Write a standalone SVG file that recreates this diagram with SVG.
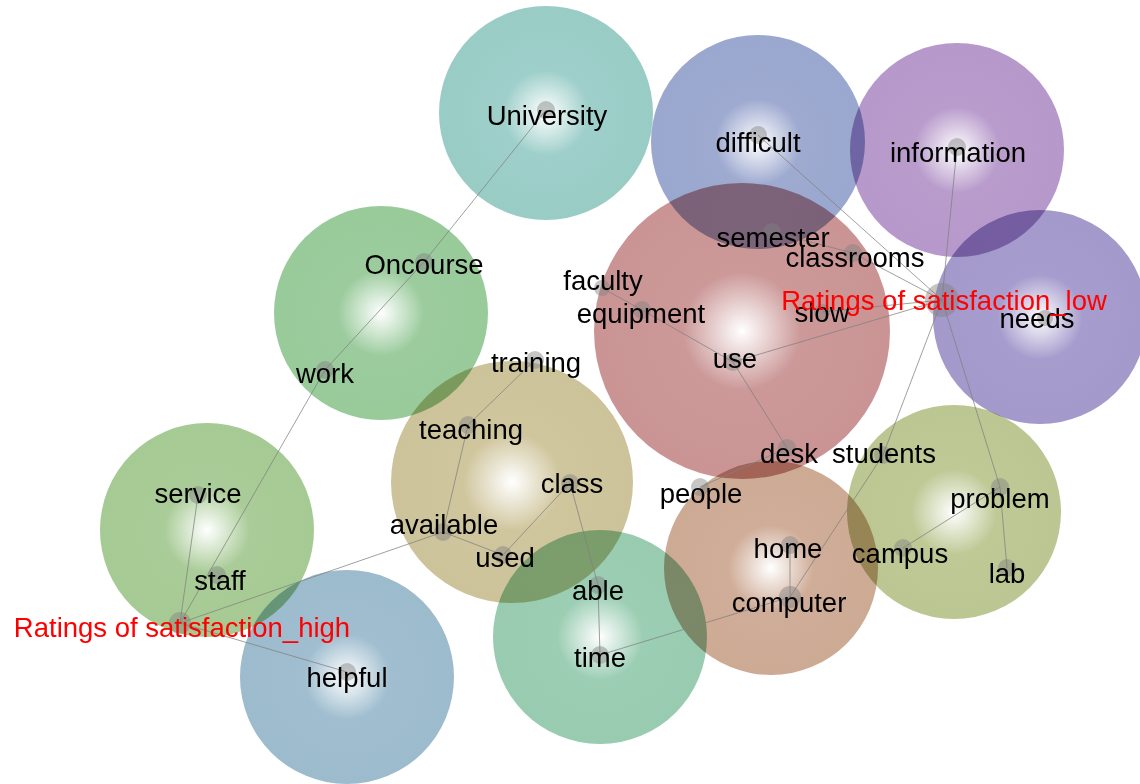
<svg xmlns="http://www.w3.org/2000/svg" width="1140" height="784" viewBox="0 0 1140 784">
<defs>
<radialGradient id="g-teal"><stop offset="0" stop-color="#fff"/><stop offset="0.4" stop-color="#9ecfca"/><stop offset="1" stop-color="#9accc6"/></radialGradient>
<radialGradient id="g-slate"><stop offset="0" stop-color="#fff"/><stop offset="0.4" stop-color="#9eaad0"/><stop offset="1" stop-color="#9aa7ce"/></radialGradient>
<radialGradient id="g-purple"><stop offset="0" stop-color="#fff"/><stop offset="0.4" stop-color="#b99ccc"/><stop offset="1" stop-color="#b699ca"/></radialGradient>
<radialGradient id="g-violet"><stop offset="0" stop-color="#fff"/><stop offset="0.4" stop-color="#a69ccd"/><stop offset="1" stop-color="#a399cb"/></radialGradient>
<radialGradient id="g-red"><stop offset="0" stop-color="#fff"/><stop offset="0.4" stop-color="#cc9898"/><stop offset="1" stop-color="#ca9494"/></radialGradient>
<radialGradient id="g-green"><stop offset="0" stop-color="#fff"/><stop offset="0.4" stop-color="#9ccc9e"/><stop offset="1" stop-color="#98ca9a"/></radialGradient>
<radialGradient id="g-tan"><stop offset="0" stop-color="#fff"/><stop offset="0.4" stop-color="#d0c69e"/><stop offset="1" stop-color="#cdc39a"/></radialGradient>
<radialGradient id="g-lime"><stop offset="0" stop-color="#fff"/><stop offset="0.4" stop-color="#aacc98"/><stop offset="1" stop-color="#a6ca94"/></radialGradient>
<radialGradient id="g-blue"><stop offset="0" stop-color="#fff"/><stop offset="0.4" stop-color="#a0becf"/><stop offset="1" stop-color="#9cbbcd"/></radialGradient>
<radialGradient id="g-sea"><stop offset="0" stop-color="#fff"/><stop offset="0.4" stop-color="#9cceb4"/><stop offset="1" stop-color="#98cbb0"/></radialGradient>
<radialGradient id="g-brown"><stop offset="0" stop-color="#fff"/><stop offset="0.4" stop-color="#d0ad98"/><stop offset="1" stop-color="#cdaa94"/></radialGradient>
<radialGradient id="g-olive"><stop offset="0" stop-color="#fff"/><stop offset="0.4" stop-color="#bec996"/><stop offset="1" stop-color="#bbc692"/></radialGradient>
</defs>
<style>
.bub{mix-blend-mode:multiply}
.edge{stroke:#808080;stroke-width:1;stroke-opacity:0.75;fill:none}
.dot{fill:#808080;fill-opacity:0.45}
.lbl{font-family:"Liberation Sans",Arial,sans-serif;font-size:27.5px;fill:#000;text-anchor:middle}
.key{font-family:"Liberation Sans",Arial,sans-serif;font-size:27.5px;fill:#ff0000;text-anchor:middle}
</style>
<rect width="1140" height="784" fill="#fff"/>
<g id="clusters">
<circle class="bub" cx="546" cy="113" r="107" fill="url(#g-teal)"/>
<circle class="bub" cx="758" cy="142" r="107" fill="url(#g-slate)"/>
<circle class="bub" cx="957" cy="150" r="107" fill="url(#g-purple)"/>
<circle class="bub" cx="1040" cy="317" r="107" fill="url(#g-violet)"/>
<circle class="bub" cx="742" cy="331" r="148" fill="url(#g-red)"/>
<circle class="bub" cx="381" cy="313" r="107" fill="url(#g-green)"/>
<circle class="bub" cx="512" cy="482" r="121" fill="url(#g-tan)"/>
<circle class="bub" cx="207" cy="530" r="107" fill="url(#g-lime)"/>
<circle class="bub" cx="347" cy="677" r="107" fill="url(#g-blue)"/>
<circle class="bub" cx="600" cy="637" r="107" fill="url(#g-sea)"/>
<circle class="bub" cx="771" cy="568" r="107" fill="url(#g-brown)"/>
<circle class="bub" cx="954" cy="512" r="107" fill="url(#g-olive)"/>
</g>
<g id="connectors">
<line class="edge" x1="546" y1="110" x2="424" y2="262"/>
<line class="edge" x1="424" y1="262" x2="325" y2="370"/>
<line class="edge" x1="325" y1="370" x2="180" y2="623"/>
<line class="edge" x1="180" y1="623" x2="198" y2="495"/>
<line class="edge" x1="180" y1="623" x2="443" y2="532"/>
<line class="edge" x1="180" y1="623" x2="347" y2="672"/>
<line class="edge" x1="443" y1="532" x2="468" y2="425"/>
<line class="edge" x1="468" y1="425" x2="535" y2="360"/>
<line class="edge" x1="443" y1="532" x2="503" y2="555"/>
<line class="edge" x1="503" y1="555" x2="570" y2="483"/>
<line class="edge" x1="570" y1="483" x2="598" y2="585"/>
<line class="edge" x1="598" y1="585" x2="600" y2="655"/>
<line class="edge" x1="600" y1="655" x2="790" y2="597"/>
<line class="edge" x1="790" y1="597" x2="790" y2="545"/>
<line class="edge" x1="790" y1="597" x2="883" y2="455"/>
<line class="edge" x1="883" y1="455" x2="942" y2="300"/>
<line class="edge" x1="942" y1="300" x2="1000" y2="487"/>
<line class="edge" x1="1000" y1="487" x2="1007" y2="568"/>
<line class="edge" x1="1000" y1="487" x2="903" y2="548"/>
<line class="edge" x1="942" y1="300" x2="957" y2="147"/>
<line class="edge" x1="942" y1="300" x2="758" y2="135"/>
<line class="edge" x1="942" y1="300" x2="853" y2="253"/>
<line class="edge" x1="853" y1="253" x2="772" y2="232"/>
<line class="edge" x1="942" y1="300" x2="822" y2="312"/>
<line class="edge" x1="942" y1="300" x2="733" y2="362"/>
<line class="edge" x1="733" y1="362" x2="642" y2="310"/>
<line class="edge" x1="642" y1="310" x2="602" y2="288"/>
<line class="edge" x1="733" y1="362" x2="787" y2="448"/>
<line class="edge" x1="787" y1="448" x2="700" y2="487"/>
</g>
<g id="node-university"><circle class="dot" cx="546" cy="110" r="9"/><text class="lbl" x="547" y="125">University</text></g>
<g id="node-difficult"><circle class="dot" cx="758" cy="135" r="9"/><text class="lbl" x="758" y="152">difficult</text></g>
<g id="node-information"><circle class="dot" cx="957" cy="147" r="9"/><text class="lbl" x="958" y="162">information</text></g>
<g id="node-semester"><circle class="dot" cx="772" cy="232" r="9"/><text class="lbl" x="773" y="247">semester</text></g>
<g id="node-classrooms"><circle class="dot" cx="853" cy="253" r="9"/><text class="lbl" x="855" y="267">classrooms</text></g>
<g id="node-faculty"><circle class="dot" cx="602" cy="288" r="8"/><text class="lbl" x="603" y="290">faculty</text></g>
<g id="node-equipment"><circle class="dot" cx="642" cy="310" r="9"/><text class="lbl" x="641" y="323">equipment</text></g>
<g id="node-slow"><circle class="dot" cx="822" cy="312" r="8"/><text class="lbl" x="822" y="322">slow</text></g>
<g id="node-use"><circle class="dot" cx="733" cy="362" r="9"/><text class="lbl" x="735" y="368">use</text></g>
<g id="node-needs"><circle class="dot" cx="1045" cy="318" r="8"/><text class="lbl" x="1037" y="328">needs</text></g>
<g id="node-low"><circle class="dot" cx="942" cy="300" r="17"/><text class="key" x="944" y="310">Ratings of satisfaction_low</text></g>
<g id="node-oncourse"><circle class="dot" cx="424" cy="262" r="9"/><text class="lbl" x="424" y="274">Oncourse</text></g>
<g id="node-work"><circle class="dot" cx="325" cy="370" r="9"/><text class="lbl" x="325" y="383">work</text></g>
<g id="node-training"><circle class="dot" cx="535" cy="360" r="9"/><text class="lbl" x="536" y="372">training</text></g>
<g id="node-teaching"><circle class="dot" cx="468" cy="425" r="9"/><text class="lbl" x="471" y="439">teaching</text></g>
<g id="node-class"><circle class="dot" cx="570" cy="483" r="9"/><text class="lbl" x="572" y="493">class</text></g>
<g id="node-available"><circle class="dot" cx="443" cy="532" r="9"/><text class="lbl" x="444" y="534">available</text></g>
<g id="node-used"><circle class="dot" cx="503" cy="555" r="9"/><text class="lbl" x="505" y="567">used</text></g>
<g id="node-able"><circle class="dot" cx="598" cy="585" r="9"/><text class="lbl" x="598" y="600">able</text></g>
<g id="node-time"><circle class="dot" cx="600" cy="655" r="9"/><text class="lbl" x="600" y="667">time</text></g>
<g id="node-people"><circle class="dot" cx="700" cy="487" r="9"/><text class="lbl" x="701" y="503">people</text></g>
<g id="node-desk"><circle class="dot" cx="787" cy="448" r="9"/><text class="lbl" x="789" y="463">desk</text></g>
<g id="node-students"><circle class="dot" cx="883" cy="455" r="9"/><text class="lbl" x="884" y="463">students</text></g>
<g id="node-home"><circle class="dot" cx="790" cy="545" r="9"/><text class="lbl" x="788" y="558">home</text></g>
<g id="node-computer"><circle class="dot" cx="790" cy="597" r="11"/><text class="lbl" x="789" y="612">computer</text></g>
<g id="node-campus"><circle class="dot" cx="903" cy="548" r="9"/><text class="lbl" x="900" y="563">campus</text></g>
<g id="node-problem"><circle class="dot" cx="1000" cy="487" r="9"/><text class="lbl" x="1000" y="508">problem</text></g>
<g id="node-lab"><circle class="dot" cx="1007" cy="568" r="9"/><text class="lbl" x="1007" y="583">lab</text></g>
<g id="node-service"><circle class="dot" cx="198" cy="495" r="9"/><text class="lbl" x="198" y="503">service</text></g>
<g id="node-staff"><circle class="dot" cx="217" cy="575" r="9"/><text class="lbl" x="220" y="590">staff</text></g>
<g id="node-high"><circle class="dot" cx="180" cy="623" r="11"/><text class="key" x="182" y="637">Ratings of satisfaction_high</text></g>
<g id="node-helpful"><circle class="dot" cx="347" cy="672" r="9"/><text class="lbl" x="347" y="687">helpful</text></g>
</svg>
